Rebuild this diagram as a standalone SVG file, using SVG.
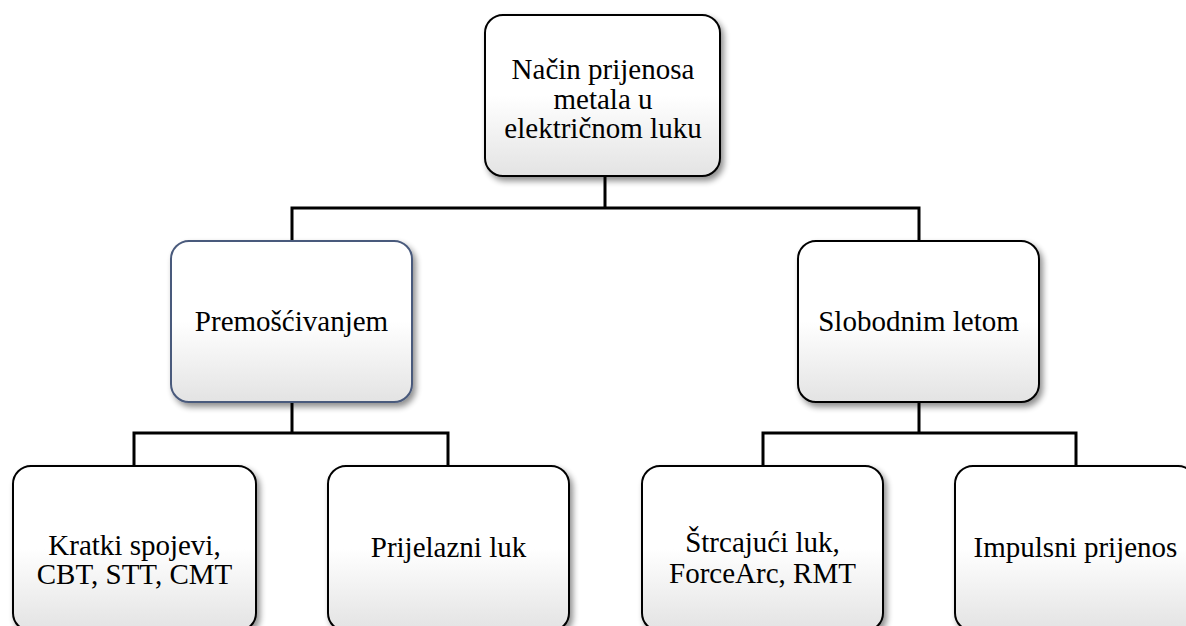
<svg xmlns="http://www.w3.org/2000/svg" width="1186" height="626" viewBox="0 0 1186 626">
<defs>
<linearGradient id="fillg" x1="0" y1="0" x2="0" y2="1">
<stop offset="0" stop-color="#ffffff"/>
<stop offset="0.5" stop-color="#ffffff"/>
<stop offset="1" stop-color="#e3e3e3"/>
</linearGradient>
<filter id="shadow" x="-10%" y="-10%" width="125%" height="125%">
<feGaussianBlur in="SourceAlpha" stdDeviation="3"/>
<feOffset dx="3" dy="4" result="b"/>
<feComponentTransfer><feFuncA type="linear" slope="0.45"/></feComponentTransfer>
<feMerge><feMergeNode/><feMergeNode in="SourceGraphic"/></feMerge>
</filter>
</defs>
<style>
.box{fill:url(#fillg);stroke:#000;stroke-width:2;filter:url(#shadow)}
.blue{stroke:#4a5a7c}
.t{font-family:"Liberation Serif","Times New Roman",serif;font-size:29px;fill:#000;text-anchor:middle}
.c{fill:none;stroke:#000;stroke-width:3}
</style>
<rect width="1186" height="626" fill="#fff"/>
<g id="connectors">
<path class="c" d="M605 176V208M292 241V208H919V241"/>
<path class="c" d="M292 402V433M134 466V433H448V466"/>
<path class="c" d="M919 402V433M763 466V433H1076V466"/>
</g>
<g id="n-root">
<rect class="box" x="485" y="15" width="235" height="161" rx="18"/>
<text class="t" x="603" y="79">Način prijenosa</text>
<text class="t" x="603" y="108.5">metala u</text>
<text class="t" x="603" y="138">električnom luku</text>
</g>
<g id="n-premoscivanjem">
<rect class="box blue" x="171" y="241" width="241" height="161" rx="18"/>
<text class="t" x="291.5" y="331">Premošćivanjem</text>
</g>
<g id="n-slobodnim">
<rect class="box" x="798" y="241" width="241" height="161" rx="18"/>
<text class="t" x="918.5" y="331">Slobodnim letom</text>
</g>
<g id="n-kratki">
<rect class="box" x="13" y="466" width="243" height="165" rx="18"/>
<text class="t" x="134.5" y="555">Kratki spojevi,</text>
<text class="t" x="134.5" y="584">CBT, STT, CMT</text>
</g>
<g id="n-prijelazni">
<rect class="box" x="328" y="466" width="241" height="165" rx="18"/>
<text class="t" x="448.5" y="557">Prijelazni luk</text>
</g>
<g id="n-strcajuci">
<rect class="box" x="642" y="466" width="241" height="165" rx="18"/>
<text class="t" x="762.5" y="552">Štrcajući luk,</text>
<text class="t" x="762.5" y="583">ForceArc, RMT</text>
</g>
<g id="n-impulsni">
<rect class="box" x="955" y="466" width="241" height="165" rx="18"/>
<text class="t" x="1075.5" y="557">Impulsni prijenos</text>
</g>
</svg>
